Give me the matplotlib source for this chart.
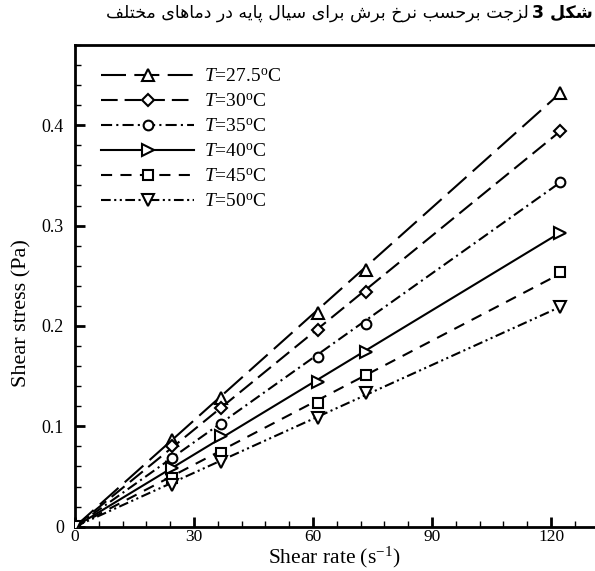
import matplotlib
matplotlib.use("Agg")
import matplotlib.pyplot as plt
from matplotlib.ticker import MultipleLocator, FuncFormatter

# ---------------- data ----------------
shear_rate = [0.0, 24.46, 36.69, 61.15, 73.38, 122.3]
labels = ["27.5", "30", "35", "40", "45", "50"]
stress_27_5 = [0.0, 0.086, 0.128, 0.213, 0.256, 0.432]
stress_30 = [0.0, 0.080, 0.118, 0.196, 0.234, 0.394]
stress_35 = [0.0, 0.068, 0.102, 0.169, 0.202, 0.343]
stress_40 = [0.0, 0.058, 0.090, 0.144, 0.174, 0.293]
stress_45 = [0.0, 0.049, 0.073, 0.123, 0.151, 0.254]
stress_50 = [0.0, 0.0415, 0.064, 0.108, 0.133, 0.219]
fit_x = [0.0, 122.3]
fit_end = [0.432, 0.394, 0.343, 0.293, 0.252, 0.219]
series = [stress_27_5, stress_30, stress_35, stress_40, stress_45, stress_50]

# ---------------- styles ----------------
markers = ["^", "D", "o", ">", "s", "v"]
msizes = [8, 6.5, 7, 8, 6.5, 8]
dashes = [(0, (18, 6)), (0, (12, 5)), (0, (8, 3, 1.5, 3)), "-",
          (0, (8, 6)), (0, (7, 2.5, 1.5, 2.5, 1.5, 2.5))]

plt.rcParams["lines.scale_dashes"] = False
plt.rcParams["font.family"] = ["Liberation Serif", "DejaVu Serif"]
plt.rcParams["mathtext.fontset"] = "custom"
plt.rcParams["mathtext.rm"] = "Liberation Serif"
plt.rcParams["mathtext.it"] = "Liberation Serif:italic"

W, H = 595, 571
fig = plt.figure(figsize=(W / 100, H / 100), dpi=100)
ax_left, ax_bottom, ax_top = 75, 526.7, 45
xmax = 132
px_per_x = 3.967
ax_w = xmax * px_per_x
ax_h = ax_bottom - ax_top
ax = fig.add_axes([ax_left / W, (H - ax_bottom) / H, ax_w / W, ax_h / H])

for ys, lab, mk, ms, ls, ye in zip(series, labels, markers, msizes, dashes, fit_end):
    ax.plot(fit_x, [0.0, ye], color="black", lw=1.5, linestyle=ls, zorder=2)
    ax.plot(shear_rate, ys, linestyle="none", marker=mk, ms=ms, mfc="white",
            mec="black", mew=1.5, zorder=3)
    # legend proxy
    ax.plot([], [], color="black", lw=1.5, linestyle=ls, marker=mk, ms=ms,
            mfc="white", mec="black", mew=1.5,
            label=r"$T$=" + lab + r"$^{\rm o}$C")

ax.set_xlim(0, xmax)
ax.set_ylim(0, 0.48)
ax.xaxis.set_major_locator(MultipleLocator(30))
ax.xaxis.set_minor_locator(MultipleLocator(6))
ax.yaxis.set_major_locator(MultipleLocator(0.1))
ax.yaxis.set_minor_locator(MultipleLocator(0.02))
ax.yaxis.set_major_formatter(FuncFormatter(lambda v, p: "%g" % round(v, 3)))
ax.tick_params(which="both", direction="in", top=False, right=False)
ax.tick_params(which="major", length=7, width=2, labelsize=13)
ax.tick_params(axis="x", which="major", labelsize=12.5)
ax.tick_params(which="minor", length=4, width=1)
ax.tick_params(axis="y", which="major", pad=8)
ax.tick_params(axis="x", which="major", pad=2)
for s in ["left", "bottom", "top"]:
    ax.spines[s].set_linewidth(2)
ax.spines["right"].set_visible(False)

ax.set_xlabel(r"Shear rate (s$^{-1}$)", fontsize=15.5)
ax.set_ylabel("Shear stress (Pa)", fontsize=16)
ax.xaxis.set_label_coords((334 - ax_left) / ax_w, (ax_bottom - 570) / ax_h)
ax.yaxis.set_label_coords((22 - ax_left) / ax_w, (ax_bottom - 313) / ax_h)
ax.xaxis.label.set_va("bottom")
ax.yaxis.label.set_va("center")

leg = ax.legend(loc="upper left", frameon=False, fontsize=14,
                bbox_to_anchor=((101 - ax_left) / ax_w, 1 - 23 / ax_h),
                borderpad=0, borderaxespad=0, handlelength=4.8,
                handletextpad=0.5, labelspacing=0.38)

# ---------------- Persian title (manual shaping) ----------------
FORMS = {
    "\u0634": ("\uFEB5", "\uFEB6", "\uFEB7", "\uFEB8"),
    "\u06A9": ("\uFB8E", "\uFB8F", "\uFB90", "\uFB91"),
    "\u0644": ("\uFEDD", "\uFEDE", "\uFEDF", "\uFEE0"),
    "\u0632": ("\uFEAF", "\uFEB0", None, None),
    "\u062C": ("\uFE9D", "\uFE9E", "\uFE9F", "\uFEA0"),
    "\u062A": ("\uFE95", "\uFE96", "\uFE97", "\uFE98"),
    "\u0628": ("\uFE8F", "\uFE90", "\uFE91", "\uFE92"),
    "\u0631": ("\uFEAD", "\uFEAE", None, None),
    "\u062D": ("\uFEA1", "\uFEA2", "\uFEA3", "\uFEA4"),
    "\u0633": ("\uFEB1", "\uFEB2", "\uFEB3", "\uFEB4"),
    "\u0646": ("\uFEE5", "\uFEE6", "\uFEE7", "\uFEE8"),
    "\u062E": ("\uFEA5", "\uFEA6", "\uFEA7", "\uFEA8"),
    "\u0627": ("\uFE8D", "\uFE8E", None, None),
    "\u06CC": ("\uFBFC", "\uFBFD", "\uFBFE", "\uFBFF"),
    "\u067E": ("\uFB56", "\uFB57", "\uFB58", "\uFB59"),
    "\u0647": ("\uFEE9", "\uFEEA", "\uFEEB", "\uFEEC"),
    "\u062F": ("\uFEA9", "\uFEAA", None, None),
    "\u0645": ("\uFEE1", "\uFEE2", "\uFEE3", "\uFEE4"),
    "\u0641": ("\uFED1", "\uFED2", "\uFED3", "\uFED4"),
}


def shape_word(w):
    out = []
    for i, c in enumerate(w):
        if c not in FORMS:
            out.append(c)
            continue
        f = FORMS[c]
        dual = f[2] is not None
        prev_join = i > 0 and w[i - 1] in FORMS and FORMS[w[i - 1]][2] is not None
        next_join = dual and i + 1 < len(w) and w[i + 1] in FORMS
        if prev_join and next_join:
            out.append(f[3])
        elif prev_join:
            out.append(f[1])
        elif next_join:
            out.append(f[2])
        else:
            out.append(f[0])
    if all(ch.isdigit() for ch in w):
        return "".join(out)
    return "".join(reversed(out))


def visual(text):
    return " ".join(shape_word(w) for w in reversed(text.split(" ")))


title_bold = "شکل 3"
title_rest = "لزجت برحسب نرخ برش برای سیال پایه در دماهای مختلف"

ty = 1 - 13 / H
tb = fig.text(0.997, ty, visual(title_bold), ha="right", va="center",
              fontsize=12.5, fontweight="bold", family=["DejaVu Sans"])
fig.canvas.draw()
r = fig.canvas.get_renderer()
bb = tb.get_window_extent(r)
fig.text((bb.x0 - 4) / W, ty, visual(title_rest), ha="right", va="center",
         fontsize=12.5, family=["DejaVu Sans"])

fig.savefig("out.png", dpi=100)
